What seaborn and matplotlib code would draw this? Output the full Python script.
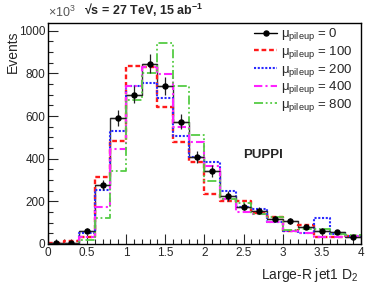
import numpy as np
import pandas as pd
import matplotlib
matplotlib.use("Agg")
import matplotlib.pyplot as plt
from matplotlib.lines import Line2D
from matplotlib.ticker import MultipleLocator
import seaborn as sns

# ----------------------------------------------------------
# Data (events in units of 10^3)
# ----------------------------------------------------------
bin_edges = [round(0.2 * i, 2) for i in range(21)]

mu0 = [2, 5, 62, 277, 590, 700, 845, 742, 574, 408, 344, 225, 175, 156, 117, 108, 81, 62, 55, 34]
mu0_err = [2, 4, 12, 25, 38, 40, 45, 42, 36, 30, 28, 22, 18, 18, 15, 15, 13, 11, 10, 8]
mu100 = [6, 15, 30, 312, 484, 837, 830, 643, 480, 382, 232, 200, 200, 145, 125, 62, 88, 34, 30, 36]
mu200 = [0, 0, 50, 254, 530, 739, 757, 684, 504, 407, 386, 250, 172, 163, 105, 60, 50, 121, 45, 36]
mu400 = [0, 0, 30, 175, 447, 739, 832, 795, 548, 476, 367, 210, 149, 142, 105, 62, 52, 34, 32, 36]
mu800 = [0, 0, 19, 121, 340, 676, 801, 942, 743, 512, 294, 210, 191, 141, 125, 66, 72, 69, 47, 42]

labels = ["0", "100", "200", "400", "800"]

# ----------------------------------------------------------
# Style
# ----------------------------------------------------------
sns.set_style("ticks")
plt.rcParams["font.family"] = ["Liberation Sans", "DejaVu Sans"]
plt.rcParams["mathtext.fontset"] = "custom"
plt.rcParams["mathtext.rm"] = "Liberation Sans"
plt.rcParams["mathtext.it"] = "Liberation Sans:italic"
plt.rcParams["mathtext.bf"] = "Liberation Sans:bold"

fig = plt.figure(figsize=(3.74, 2.9), dpi=100)
ax = fig.add_axes([0.128, 0.159, 0.837, 0.762])

edges = np.array(bin_edges)
centers = (edges[:-1] + edges[1:]) / 2

df = pd.DataFrame({"x": centers, "mu0": mu0, "mu100": mu100,
                   "mu200": mu200, "mu400": mu400, "mu800": mu800})

styles = [
    ("mu100", "#ff1a1a", (0, (2, 1.2)), 1.7),
    ("mu200", "#2a2aff", (0, (1, 0.8)), 1.5),
    ("mu400", "#ff22ff", (0, (4, 1.5, 1, 1.5)), 1.5),
    ("mu800", "#55cc44", (0, (5, 1.5, 1, 1.5, 1, 1.5)), 1.3),
]

# black reference histogram
sns.histplot(data=df, x="x", weights="mu0", bins=bin_edges, element="step", fill=False,
             color="#333333", linewidth=1.0, ax=ax)

for col_name, col, ls, lw in styles:
    sns.histplot(data=df, x="x", weights=col_name, bins=bin_edges, element="step", fill=False,
                 color=col, linestyle=ls, linewidth=lw, ax=ax)

ax.errorbar(centers, mu0, yerr=mu0_err, xerr=0.1, fmt="o", color="black",
            markersize=3.6, elinewidth=0.9, ecolor="#222222", capsize=0, zorder=5)

# ----------------------------------------------------------
# Axes
# ----------------------------------------------------------
ax.set_xlim(0, 4)
ax.set_ylim(0, 1037)
ax.xaxis.set_major_locator(MultipleLocator(0.5))
ax.xaxis.set_minor_locator(MultipleLocator(0.1))
ax.yaxis.set_major_locator(MultipleLocator(200))
ax.yaxis.set_minor_locator(MultipleLocator(50))
ax.set_xticks([0, 0.5, 1, 1.5, 2, 2.5, 3, 3.5, 4])
ax.set_xticklabels(["0", "0.5", "1", "1.5", "2", "2.5", "3", "3.5", "4"])
ax.tick_params(which="both", direction="in", labelsize=8.5, width=0.8)
ax.tick_params(which="major", length=7, pad=2)
ax.tick_params(which="minor", length=3.5)
for sp in ax.spines.values():
    sp.set_visible(True)
    sp.set_linewidth(1.0)
    sp.set_color("black")

ax.set_ylabel("")
ax.set_xlabel("")
fig.text(0.035, 0.895, "Events", rotation=90, ha="center", va="top", fontsize=10)
fig.text(0.957, 0.02, r"Large-R jet1 D$_{2}$", ha="right", va="bottom", fontsize=10)
fig.text(0.128, 0.93, r"$\times$10$^{3}$", ha="left", va="bottom", fontsize=9, color="#555555")
fig.text(0.225, 0.935, "\u221as = 27 TeV, 15 ab$^{\\mathbf{-1}}$", ha="left", va="bottom",
         fontsize=9, fontweight="bold")

ax.text(2.75, 418, "PUPPI", fontsize=9.5, fontweight="bold", ha="center", va="center")

# ----------------------------------------------------------
# Legend
# ----------------------------------------------------------
handles = [Line2D([], [], color="black", marker="o", markersize=3.6, linewidth=1.0)]
for col_name, col, ls, lw in styles:
    handles.append(Line2D([], [], color=col, linestyle=ls, linewidth=lw))
leg_labels = ["\u03bc$_{\\mathrm{pileup}}$ = " + l for l in labels]
ax.legend(handles, leg_labels, loc="upper right", frameon=False, fontsize=9.5,
          handlelength=1.8, handletextpad=0.3, labelspacing=0.05,
          borderaxespad=0.2, bbox_to_anchor=(1.0, 1.02))

fig.savefig("out.png", dpi=100)
